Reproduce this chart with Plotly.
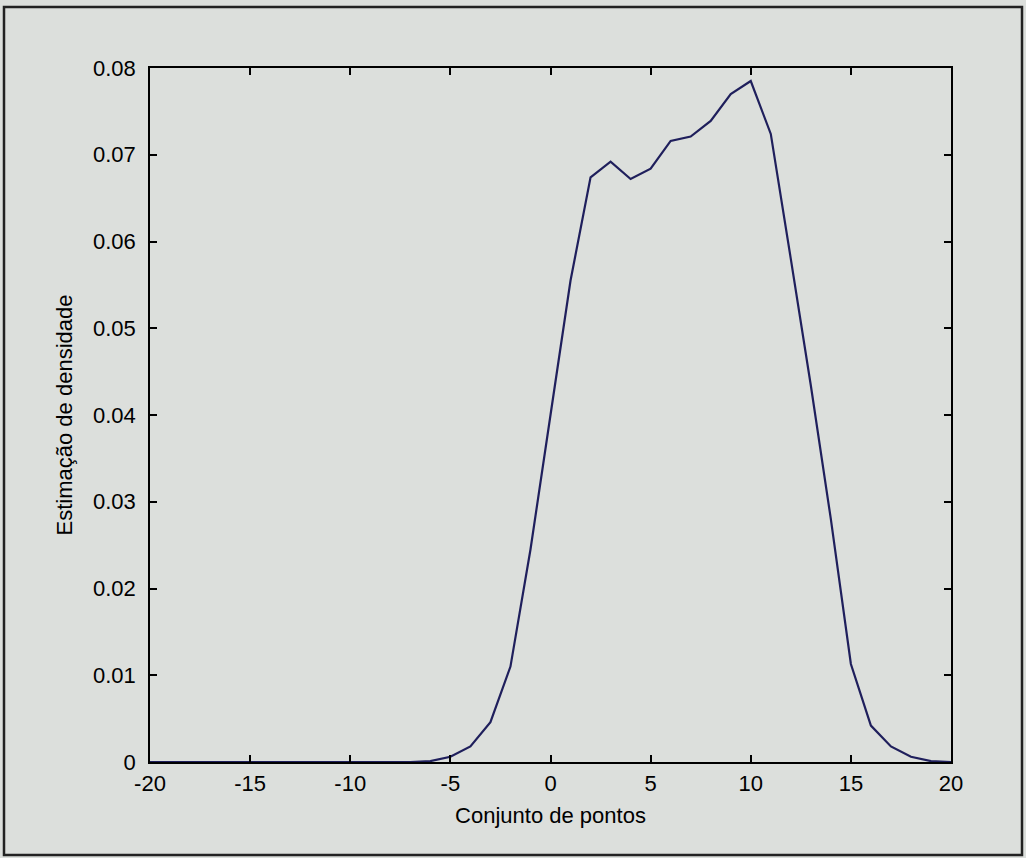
import plotly.graph_objects as go

x_vals = list(range(-20, 21))
density = [0, 0, 0, 0, 0, 0, 0, 0, 0, 0,
           0, 0, 0, 0, 0.0001, 0.0006, 0.0018, 0.0046, 0.011, 0.0245,
           0.040, 0.0555, 0.0674, 0.0692, 0.0672, 0.0684, 0.0716, 0.0721, 0.0739, 0.0770,
           0.0785, 0.0724, 0.058, 0.0434, 0.028, 0.0113, 0.0042, 0.0018, 0.0006, 0.0001,
           0]

x_ticks = [-20, -15, -10, -5, 0, 5, 10, 15, 20]
y_ticks = [0, 0.01, 0.02, 0.03, 0.04, 0.05, 0.06, 0.07, 0.08]
y_tick_text = ["0", "0.01", "0.02", "0.03", "0.04", "0.05", "0.06", "0.07", "0.08"]

bg = "#dcdfdc"
FONT = "Liberation Sans, Arial"
fig = go.Figure()
fig.add_trace(go.Scatter(x=x_vals, y=density, mode="lines",
                         line=dict(color="#1f1f5c", width=2.2), showlegend=False))

axis_common = dict(showgrid=False, zeroline=False, showline=True, linecolor="black",
                   linewidth=1.5, mirror="ticks", ticks="inside", ticklen=7,
                   tickcolor="black", tickwidth=1.5,
                   tickfont=dict(family=FONT, size=22, color="black"))

fig.update_xaxes(range=[-20, 20], tickvals=x_ticks, ticktext=[str(v) for v in x_ticks],
                 ticklabelstandoff=1,
                 title=dict(text="Conjunto de pontos", standoff=12,
                            font=dict(family=FONT, size=22, color="black")),
                 **axis_common)
fig.update_yaxes(range=[0, 0.08], tickvals=y_ticks, ticktext=y_tick_text,
                 ticklabelstandoff=8,
                 title=dict(text="Estimação de densidade", standoff=14,
                            font=dict(family=FONT, size=22, color="black")),
                 **axis_common)

fig.add_shape(type="rect", xref="paper", yref="paper",
              x0=-146/801, x1=1.0 + 71/801, y0=-93/694, y1=1.0 + 61/694,
              line=dict(color="#222222", width=2.5), fillcolor="rgba(0,0,0,0)", layer="below")

fig.update_layout(width=1026, height=858,
                  margin=dict(l=150, r=75, t=68, b=96),
                  paper_bgcolor=bg, plot_bgcolor=bg,
                  font=dict(family=FONT, color="black"))

fig.write_html("out.html")
